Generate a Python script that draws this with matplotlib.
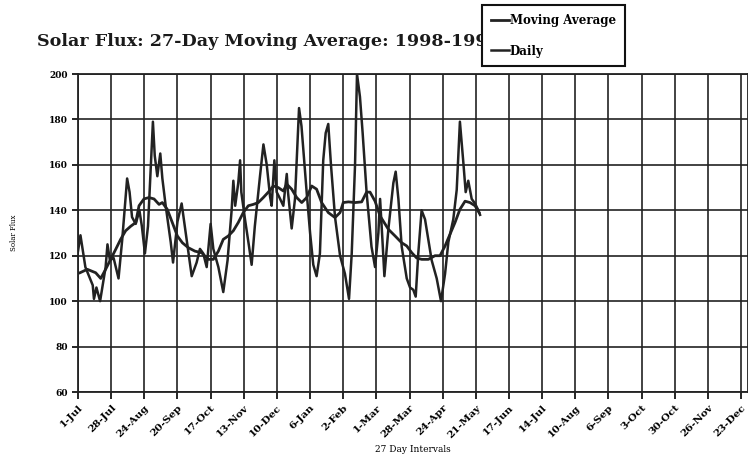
import matplotlib
matplotlib.use('Agg')
import matplotlib.pyplot as plt
import numpy as np

# x positions are days after 1-Jul-1998
daily_day = [0, 2, 6, 12, 13, 15, 18, 22.5, 24, 26, 29, 33, 36, 40, 42, 44, 47, 50, 52, 54.5,
             57, 61, 62.5, 64.6, 67, 68.7, 71.4, 75.5, 77.4, 81, 84.4, 88.5, 92.6, 96.6, 99.3,
             102, 104.8, 108, 110.2, 114.3, 118.3, 121.8, 125.1, 126.5, 128, 130.5, 132, 133,
             136, 139.3, 141.4, 144, 148.2, 151, 153.7, 156.4, 157.7, 159.9, 161.8, 163.7,
             167.2, 170, 171, 174, 176.7, 180, 182, 186.2, 189, 191.6, 194.3, 197, 199.7,
             201.7, 203.8, 206, 209.3, 213.4, 217.4, 220.7, 222.9, 225.6, 227.2, 229.6, 231.8,
             235, 239, 241.9, 244.6, 246, 247.9, 249.5, 252.8, 256.8, 258.7, 260.9, 263.6,
             267.7, 270.4, 273, 275, 277.1, 279.8, 282.6, 285.3, 288, 292.1, 295.6, 298.9,
             301.6, 305.6, 308.4, 311, 313.8, 315.7, 317.8, 320.6, 323.3, 326, 327.4]
daily_flux = [122, 129, 115, 107, 101, 106, 100, 115, 125, 118, 119, 110, 127, 154, 148, 137,
              134, 140, 133, 121, 133, 179, 164, 155, 165, 154, 142, 126, 117, 135, 143, 127,
              111, 117, 123, 121, 115, 134, 123, 115, 104, 118, 140, 153, 142, 152, 162, 148,
              136, 124, 116, 133, 155, 169, 160, 146, 142, 162, 148, 146, 142, 156, 148, 132,
              145, 185, 177, 148, 130, 116, 111, 121, 162, 174, 178, 160, 137, 120, 112, 101,
              121, 160, 200, 190, 174, 148, 124, 115, 130, 145, 127, 111, 132, 152, 157, 145,
              124, 110, 106, 105, 102, 121, 140, 136, 127, 118, 110, 100, 112, 126, 136, 149,
              179, 161, 148, 153, 145, 143, 140, 138]

ma_day = [1.6, 7.6, 14.4, 18.5, 22.5, 26.6, 30.7, 34.7, 38.8, 43, 47, 49.7, 53.7, 57.8, 61.9,
          66, 68.7, 72.7, 76.8, 80.9, 85, 89.9, 95.3, 100.7, 106.2, 110.2, 114.3, 118.3, 122.4,
          126.5, 130.5, 134.6, 138.7, 142.8, 146.8, 150.9, 155, 159, 163.1, 167.2, 170, 174,
          178.1, 182.2, 186.2, 190.3, 194.3, 198.4, 203.8, 209.3, 213.4, 216, 220.2, 225.6,
          231, 235, 237.8, 241.9, 246, 252.8, 258.2, 263.6, 267.7, 271.8, 275.8, 279.9,
          285.3, 290.7, 294.8, 298.9, 302.9, 307, 311, 315.2, 319.2, 323.3, 326.6]
ma_flux = [112.5, 114, 112.5, 110, 114, 118.4, 122.8, 127.2, 131, 133, 134.6, 142, 145, 145.6,
           145, 142.6, 143.4, 140.4, 134.6, 128.7, 125.7, 123.5, 122, 121.3, 118.4, 118.4, 122,
           127.2, 128.7, 131, 134.6, 139, 142, 142.6, 143.4, 145.6, 148, 150.7, 150, 148.5,
           151.5, 149.3, 145.6, 143.4, 145.6, 150.7, 149.3, 143.4, 139, 136.8, 139, 143.4,
           143.7, 143.4, 143.7, 148, 148, 144, 137.5, 131.6, 128.7, 125.7, 124.3, 121.3, 119,
           118.4, 118.4, 120, 120, 124.3, 129.4, 134.6, 140.4, 144, 143.4, 142, 139]

tick_labels = ['1-Jul', '28-Jul', '24-Aug', '20-Sep', '17-Oct', '13-Nov', '10-Dec', '6-Jan',
               '2-Feb', '1-Mar', '28-Mar', '24-Apr', '21-May', '17-Jun', '14-Jul', '10-Aug',
               '6-Sep', '3-Oct', '30-Oct', '26-Nov', '23-Dec']
interval = 27

plt.rcParams['font.family'] = 'DejaVu Serif'
plt.rcParams['font.weight'] = 'bold'

fig = plt.figure(figsize=(7.48, 4.71), dpi=100)
ax = fig.add_axes([78/748, 1 - 392/471, 1 - 78/748, (392 - 74)/471])

line_col = '#222222'
ma_line, = ax.plot(ma_day, ma_flux, color=line_col, lw=2.0, label='Moving Average')
d_line, = ax.plot(daily_day, daily_flux, color=line_col, lw=1.8, label='Daily')

ax.set_xlim(0, 670/1.228)
ax.set_ylim(60, 200)
ax.set_xticks(np.arange(len(tick_labels)) * interval)
ax.set_xticklabels(tick_labels, rotation=45, ha='right', rotation_mode='anchor', fontsize=7.5)
ax.set_yticks(np.arange(60, 201, 20))
ax.tick_params(axis='y', labelsize=6.5, length=4, width=1.2, direction='out')
ax.tick_params(axis='x', length=5, width=1.2, direction='out', pad=3)
ax.grid(True, color='#222222', lw=1.2)
ax.set_axisbelow(True)
for s in ax.spines.values():
    s.set_color('#222222')
    s.set_linewidth(1.3)

ax.set_ylabel('Solar Flux', fontsize=5, labelpad=22)
ax.set_xlabel('27 Day Intervals', fontsize=6.5, labelpad=4)

fig.text(37/748, 1 - 42/471, 'Solar Flux: 27-Day Moving Average: 1998-1999', fontsize=12.6,
         fontweight='bold', va='center', ha='left', color='#1a1a1a')

leg = fig.legend(handles=[ma_line, d_line], loc='upper left',
                 bbox_to_anchor=(482/748, 1 - 5/471), frameon=True, fancybox=False,
                 fontsize=8.5, handlelength=1.5, handletextpad=0.1, labelspacing=1.5,
                 borderpad=0.75, borderaxespad=0)
leg.get_frame().set_edgecolor('#111111')
leg.get_frame().set_linewidth(1.5)
leg.get_frame().set_alpha(1)
leg.set_zorder(10)

fig.savefig('out.png', dpi=100)
